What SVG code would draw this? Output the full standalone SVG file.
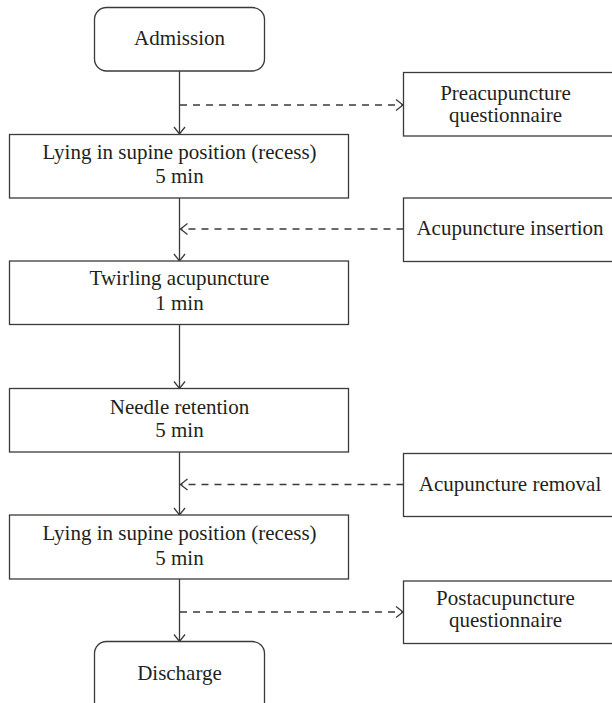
<svg xmlns="http://www.w3.org/2000/svg" width="612" height="703" viewBox="0 0 612 703">
<style>
.box{fill:#fff;stroke:#3a3a3a;stroke-width:1.3}
.t{font-family:"Liberation Serif","Times New Roman",serif;font-size:21px;fill:#231f20;text-anchor:middle}
.ln{fill:none;stroke:#3a3a3a;stroke-width:1.3}
.dash{stroke-dasharray:7 6}
</style>
<defs>
<marker id="ah" markerUnits="userSpaceOnUse" markerWidth="16" markerHeight="16" viewBox="-10 -8 12 16" refX="0" refY="0" orient="auto">
<path d="M-7,-5.5 L0,0 L-7,5.5" fill="none" stroke="#3a3a3a" stroke-width="1.3"/>
</marker>
</defs>
<rect width="612" height="703" fill="#fff"/>
<g id="connectors">
<line class="ln" x1="179.5" y1="71" x2="179.5" y2="134" marker-end="url(#ah)"/>
<line class="ln" x1="179.5" y1="198" x2="179.5" y2="261" marker-end="url(#ah)"/>
<line class="ln" x1="179.5" y1="324.5" x2="179.5" y2="388.5" marker-end="url(#ah)"/>
<line class="ln" x1="179.5" y1="452" x2="179.5" y2="515" marker-end="url(#ah)"/>
<line class="ln" x1="179.5" y1="579" x2="179.5" y2="641.5" marker-end="url(#ah)"/>
<line class="ln dash" x1="180" y1="105" x2="403" y2="105" marker-end="url(#ah)"/>
<line class="ln dash" x1="403.5" y1="229" x2="180.5" y2="229" marker-end="url(#ah)"/>
<line class="ln dash" x1="403.5" y1="484.5" x2="180.5" y2="484.5" marker-end="url(#ah)"/>
<line class="ln dash" x1="180" y1="612" x2="403" y2="612" marker-end="url(#ah)"/>
</g>
<g id="admission">
<rect class="box" x="94.5" y="7.5" width="170" height="63.5" rx="12"/>
<text class="t" x="179.5" y="45">Admission</text>
</g>
<g id="recess1">
<rect class="box" x="9.5" y="134.5" width="339" height="63.5"/>
<text class="t" x="179.5" y="158.5">Lying in supine position (recess)</text>
<text class="t" x="179.5" y="183">5 min</text>
</g>
<g id="twirling">
<rect class="box" x="9.5" y="261" width="339" height="63.5"/>
<text class="t" x="179.5" y="285">Twirling acupuncture</text>
<text class="t" x="179.5" y="309.5">1 min</text>
</g>
<g id="retention">
<rect class="box" x="9.5" y="388.5" width="339" height="63.5"/>
<text class="t" x="179.5" y="413.5">Needle retention</text>
<text class="t" x="179.5" y="437">5 min</text>
</g>
<g id="recess2">
<rect class="box" x="9.5" y="515" width="339" height="64"/>
<text class="t" x="179.5" y="540">Lying in supine position (recess)</text>
<text class="t" x="179.5" y="564.5">5 min</text>
</g>
<g id="discharge">
<rect class="box" x="94.5" y="641.5" width="170" height="80" rx="12"/>
<text class="t" x="179.5" y="680">Discharge</text>
</g>
<g id="pre-questionnaire">
<rect class="box" x="403.5" y="72.5" width="212" height="63.5"/>
<text class="t" x="505.5" y="99.5">Preacupuncture</text>
<text class="t" x="505.5" y="121.5">questionnaire</text>
</g>
<g id="insertion">
<rect class="box" x="403.5" y="198" width="212" height="63.5"/>
<text class="t" x="510" y="235">Acupuncture insertion</text>
</g>
<g id="removal">
<rect class="box" x="403.5" y="453.5" width="212" height="63"/>
<text class="t" x="510" y="490.5">Acupuncture removal</text>
</g>
<g id="post-questionnaire">
<rect class="box" x="403.5" y="581" width="212" height="62.5"/>
<text class="t" x="505.5" y="605">Postacupuncture</text>
<text class="t" x="505.5" y="627">questionnaire</text>
</g>
</svg>
